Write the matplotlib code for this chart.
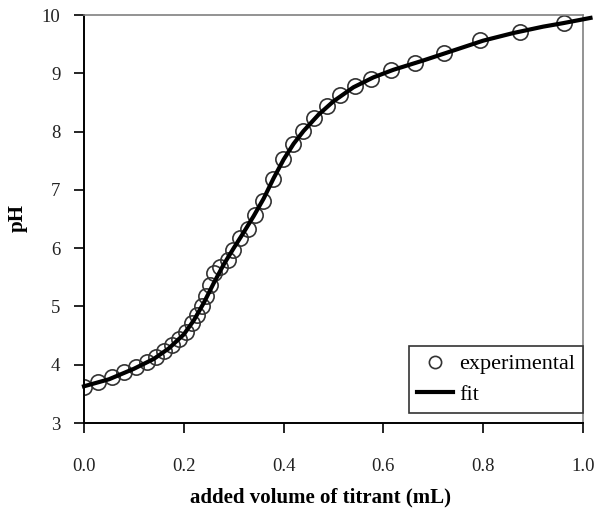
import matplotlib
matplotlib.use('Agg')
import matplotlib.pyplot as plt

# experimental titration points (volume in mL, pH)
vol_exp = [0.000, 0.028, 0.056, 0.080, 0.104, 0.126, 0.144, 0.160, 0.176, 0.190,
           0.204, 0.216, 0.226, 0.236, 0.244, 0.252, 0.261, 0.273, 0.289, 0.299,
           0.313, 0.329, 0.343, 0.359, 0.379, 0.399, 0.419, 0.439, 0.461, 0.487,
           0.513, 0.543, 0.575, 0.615, 0.663, 0.721, 0.794, 0.874, 0.962]
ph_exp = [3.62, 3.70, 3.79, 3.87, 3.96, 4.05, 4.13, 4.24, 4.34, 4.44,
          4.56, 4.72, 4.85, 5.01, 5.18, 5.37, 5.57, 5.68, 5.80, 5.97,
          6.17, 6.33, 6.57, 6.81, 7.19, 7.53, 7.79, 8.01, 8.23, 8.44,
          8.63, 8.78, 8.90, 9.06, 9.17, 9.35, 9.57, 9.71, 9.86]

# fitted curve
vol_fit = [0.00, 0.05, 0.10, 0.14, 0.17, 0.20, 0.22, 0.24, 0.26, 0.28,
           0.30, 0.32, 0.34, 0.36, 0.38, 0.40, 0.42, 0.44, 0.47, 0.50,
           0.54, 0.58, 0.62, 0.68, 0.74, 0.80, 0.86, 0.92, 0.96, 1.015]
ph_fit = [3.63, 3.75, 3.93, 4.10, 4.28, 4.52, 4.76, 5.06, 5.40, 5.72,
          6.00, 6.27, 6.55, 6.85, 7.20, 7.52, 7.79, 8.01, 8.29, 8.52,
          8.76, 8.93, 9.06, 9.22, 9.39, 9.56, 9.69, 9.80, 9.86, 9.95]

plt.rcParams['font.family'] = ['Liberation Serif', 'DejaVu Serif']

fig = plt.figure(figsize=(5.94, 5.20), dpi=100)
ax = fig.add_axes([84/594, 1 - 423/520, 499/594, 408/520])

ax.plot(vol_exp, ph_exp, 'o', ms=11, mfc='none', mec='#333333', mew=1.2,
        label='experimental', zorder=2)
ax.plot(vol_fit, ph_fit, '-', color='black', lw=3, label='fit',
        clip_on=False, zorder=3)

ax.set_xlim(0, 1.0)
ax.set_ylim(3, 10)
ax.set_xticks([0.0, 0.2, 0.4, 0.6, 0.8, 1.0])
ax.set_xticklabels(['0.0', '0.2', '0.4', '0.6', '0.8', '1.0'])
ax.set_yticks(range(3, 11))

ax.tick_params(axis='x', direction='out', length=7, width=1.2, pad=18, labelsize=13.5,
               labelcolor='#222222')
ax.tick_params(axis='y', direction='out', length=7, width=1.2, pad=10, labelsize=13.5,
               labelcolor='#222222')

for s in ['left', 'bottom']:
    ax.spines[s].set_linewidth(1.4)
    ax.spines[s].set_color('black')
for s in ['top', 'right']:
    ax.spines[s].set_linewidth(1.2)
    ax.spines[s].set_color('#808080')

# axis titles placed where the original has them
fig.text(320/594, 1 - 497/520, 'added volume of titrant (mL)', fontsize=15,
         fontweight='bold', ha='center', va='center')
fig.text(18/594, 1 - 218/520, 'pH', fontsize=15, fontweight='bold',
         rotation=90, ha='center', va='center')

leg = ax.legend(loc='lower right', bbox_to_anchor=(1.0, 0.025), borderaxespad=0,
                fontsize=16, handlelength=1.6, handletextpad=0.3, labelspacing=0.45,
                fancybox=False, framealpha=1, borderpad=0.35, markerscale=0.8)
leg.get_frame().set_edgecolor('#333333')
leg.get_frame().set_linewidth(1.2)

fig.savefig('out.png', dpi=100)
